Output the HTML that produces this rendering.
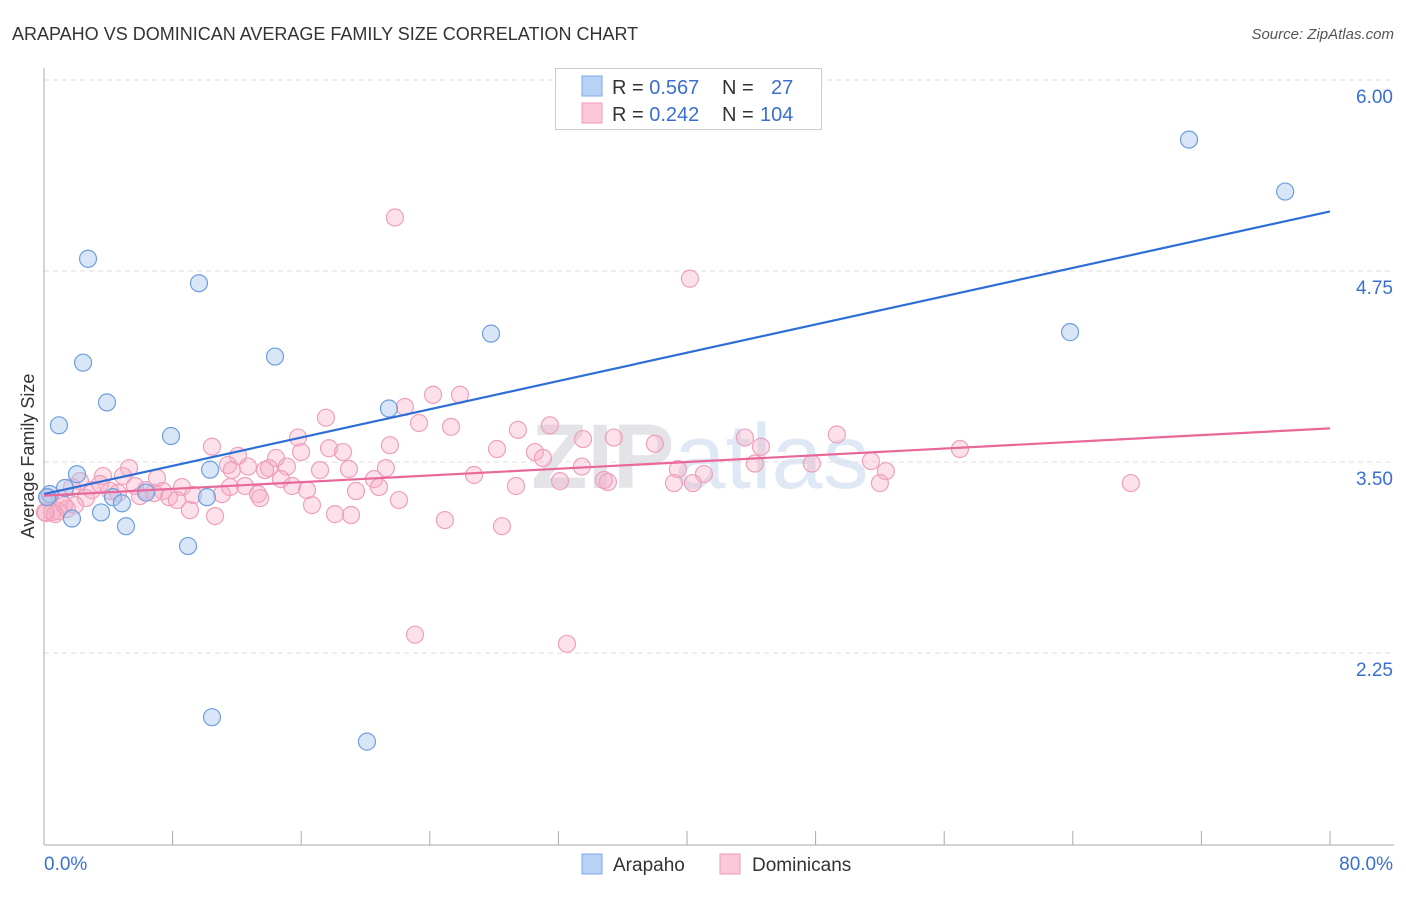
<!DOCTYPE html>
<html><head><meta charset="utf-8"><style>
body{margin:0;background:#fff;font-family:"Liberation Sans",sans-serif;}
svg text{font-family:"Liberation Sans",sans-serif;}
</style></head><body>
<svg id="chart" width="1406" height="892">
<text x="12" y="40" font-size="18" fill="#333">ARAPAHO VS DOMINICAN AVERAGE FAMILY SIZE CORRELATION CHART</text>
<text x="1394" y="39" font-size="15" fill="#555" font-style="italic" text-anchor="end">Source: ZipAtlas.com</text>
<text x="700" y="488" font-size="92" fill="#e4e4e8" text-anchor="middle" font-weight="bold">ZIP<tspan font-weight="normal" fill="#dfe8f5">atlas</tspan></text>
<g id="grid"></g><g id="axes"></g><g id="marks"></g>
<text transform="translate(34,456) rotate(-90)" font-size="18" fill="#333" text-anchor="middle">Average Family Size</text>
<g>
<rect x="555.5" y="68.5" width="266" height="61" fill="#fff" stroke="#ccc"/>
<rect x="582" y="76" width="20" height="20" fill="#b8d2f5" stroke="#7aa8e6"/>
<rect x="582" y="103" width="20" height="20" fill="#fcc8d8" stroke="#f09ab8"/>
<text x="612" y="94" font-size="20" fill="#333">R = <tspan fill="#3a6fd0">0.567</tspan><tspan x="722">N =</tspan><tspan x="771" fill="#3a6fd0">27</tspan></text>
<text x="612" y="121" font-size="20" fill="#333">R = <tspan fill="#3a6fd0">0.242</tspan><tspan x="722">N =</tspan><tspan x="760" fill="#3a6fd0">104</tspan></text>
</g>
<g>
<rect x="582" y="854" width="20" height="20" fill="#b8d2f5" stroke="#7aa8e6"/>
<text x="613" y="871" font-size="19" fill="#333">Arapaho</text>
<rect x="720" y="854" width="20" height="20" fill="#fcc8d8" stroke="#f09ab8"/>
<text x="752" y="871" font-size="19" fill="#333">Dominicans</text>
</g>
</svg>
<script>
const yTicks=[6.00,4.75,3.50,2.25];
const yTickLabels=["6.00","4.75","3.50","2.25"];
const xTickLabels=["0.0%","80.0%"];
const blueX=[0.37,0.19,0.93,1.31,1.74,2.05,2.43,2.74,3.55,3.92,4.29,4.85,5.10,6.35,7.90,8.96,9.64,10.14,10.33,10.45,14.37,20.09,21.46,27.81,63.83,71.23,77.21];
const blueY=[3.29,3.27,3.74,3.33,3.13,3.42,4.15,4.83,3.17,3.89,3.27,3.23,3.08,3.30,3.67,2.95,4.67,3.27,3.45,1.83,4.19,1.67,3.85,4.34,4.35,5.61,5.27];
const pinkX=[21.83,40.18,24.20,25.88,22.45,17.54,31.47,25.32,23.33,29.48,15.80,33.53,35.45,43.60,49.32,38.00,44.60,10.45,21.52,17.73,15.99,18.60,28.18,30.54,56.98,12.07,14.43,31.04,51.44,47.77,5.29,11.44,12.69,14.0,15.11,17.17,18.97,21.27,33.46,39.43,44.22,52.37,3.67,4.91,7.03,11.69,14.74,20.53,26.75,41.05,34.83,32.10,29.36,35.08,39.19,40.37,52.0,67.61,2.24,1.74,2.99,4.11,5.66,6.34,7.40,8.58,12.50,15.43,19.41,20.84,13.31,11.07,9.27,7.78,5.97,4.60,2.61,1.0,0.25,0.50,0.87,1.43,1.93,0.12,0.68,9.08,10.64,13.44,16.67,18.10,19.10,22.08,24.94,28.49,23.08,32.53,1.24,0.05,3.48,11.57,13.75,16.36,8.27,6.84];
const pinkY=[5.10,4.70,3.94,3.94,3.86,3.79,3.74,3.73,3.755,3.71,3.66,3.65,3.66,3.66,3.68,3.62,3.60,3.60,3.61,3.59,3.565,3.565,3.585,3.565,3.585,3.54,3.526,3.526,3.506,3.49,3.46,3.48,3.47,3.46,3.47,3.447,3.454,3.46,3.47,3.454,3.49,3.44,3.408,3.408,3.395,3.447,3.388,3.388,3.415,3.421,3.382,3.375,3.343,3.369,3.362,3.362,3.362,3.362,3.375,3.336,3.316,3.31,3.343,3.316,3.31,3.336,3.343,3.343,3.31,3.336,3.29,3.29,3.284,3.27,3.277,3.297,3.264,3.264,3.27,3.172,3.179,3.192,3.218,3.166,3.159,3.185,3.146,3.264,3.218,3.159,3.153,3.251,3.12,3.08,2.37,2.31,3.218,3.172,3.356,3.336,3.447,3.316,3.251,3.297];
const blueLine=[3.29,5.14];
const pinkLine=[3.28,3.72];
const NS="http://www.w3.org/2000/svg";
const X0=44,X1=1330,Y6=80,PPU=152.8;
const sx=v=>X0+(v/80)*(X1-X0);
const sy=v=>Y6+(6-v)*PPU;
function mk(tag,attrs,parent){const e=document.createElementNS(NS,tag);for(const k in attrs)e.setAttribute(k,attrs[k]);parent.appendChild(e);return e;}
const grid=document.getElementById('grid'),axes=document.getElementById('axes'),marks=document.getElementById('marks');
yTicks.forEach((t,i)=>{
 const l=mk('line',{x1:44,x2:1394,y1:sy(t),y2:sy(t),stroke:'#ddd','stroke-dasharray':'5,4'},grid);
 
 
 const tx=mk('text',{x:1393,y:sy(t)+23,'font-size':19,fill:'#3a6fd0','text-anchor':'end'},axes);
 tx.textContent=yTickLabels[i];
 
 
});
const ya=mk('line',{x1:44,x2:44,y1:68,y2:845,stroke:'#aaa'},axes);


const xa=mk('line',{x1:44,x2:1394,y1:845,y2:845,stroke:'#aaa'},axes);


for(let i=0;i<=10;i++){const t=mk('line',{x1:sx(i*8),x2:sx(i*8),y1:831,y2:845,stroke:'#aaa'},axes);
 
 }
const xl0=mk('text',{x:44,y:870,'font-size':19,fill:'#3a6fd0'},axes);xl0.textContent=xTickLabels[0];


const xl1=mk('text',{x:1393,y:870,'font-size':19,fill:'#3a6fd0','text-anchor':'end'},axes);xl1.textContent=xTickLabels[1];


pinkX.forEach((x,i)=>{const c=mk('circle',{cx:sx(x),cy:sy(pinkY[i]),r:8.5,fill:'rgba(246,170,196,0.35)',stroke:'#eea0bc','stroke-width':1.2},marks);
 
 });
blueX.forEach((x,i)=>{const c=mk('circle',{cx:sx(x),cy:sy(blueY[i]),r:8.5,fill:'rgba(168,200,240,0.45)',stroke:'#6f9fdc','stroke-width':1.2},marks);
 
 });
const bl=mk('line',{x1:sx(0),y1:sy(blueLine[0]),x2:sx(80),y2:sy(blueLine[1]),stroke:'#2e6fd6','stroke-width':2.2},marks);


const pl=mk('line',{x1:sx(0),y1:sy(pinkLine[0]),x2:sx(80),y2:sy(pinkLine[1]),stroke:'#e8689a','stroke-width':2.2},marks);


</script>
</body></html>
